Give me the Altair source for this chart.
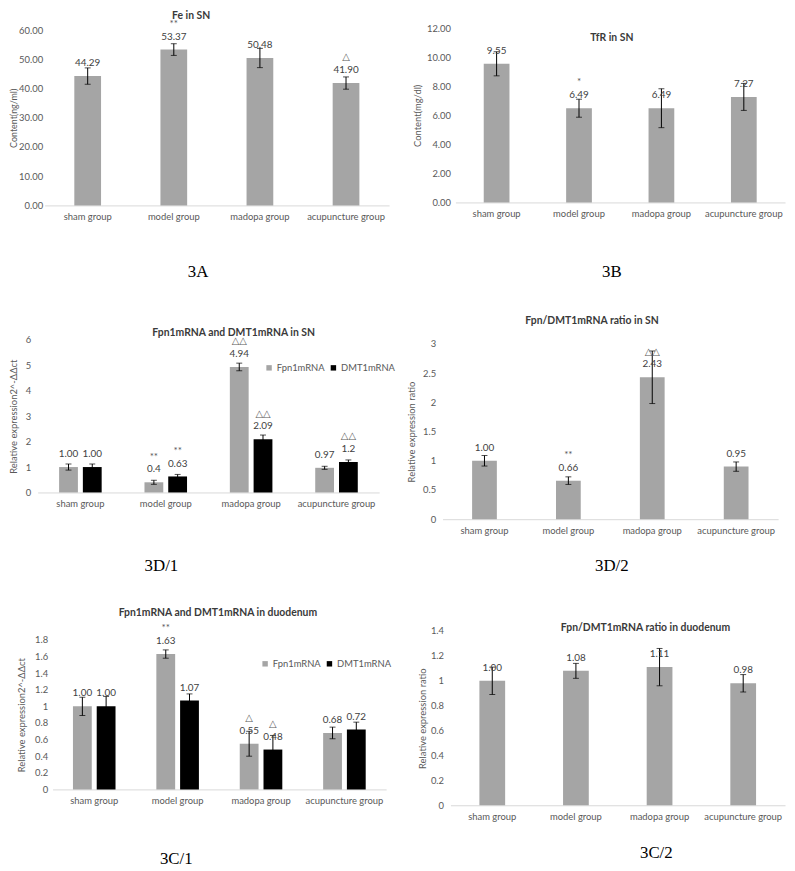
import altair as alt
import pandas as pd

GROUPS = ["sham group", "model group", "madopa group", "acupuncture group"]
SERIES = ["Fpn1mRNA", "DMT1mRNA"]

# ---- 3A : Fe in SN ----
fe_values = [44.29, 53.37, 50.48, 41.90]
fe_errors = [2.8, 2.0, 3.3, 2.1]
fe_labels = ["44.29", "53.37", "50.48", "41.90"]
fe_marks = ["", "**", "", "△"]
fe_ticks = [0, 10, 20, 30, 40, 50, 60]

# ---- 3B : TfR in SN ----
tfr_values = [9.55, 6.49, 6.49, 7.27]
tfr_errors = [0.83, 0.62, 1.34, 0.93]
tfr_labels = ["9.55", "6.49", "6.49", "7.27"]
tfr_marks = ["", "*", "", ""]
tfr_ticks = [0, 2, 4, 6, 8, 10, 12]

# ---- 3D/1 : Fpn1mRNA and DMT1mRNA in SN ----
sn_fpn_values = [1.00, 0.40, 4.94, 0.97]
sn_fpn_errors = [0.12, 0.08, 0.15, 0.06]
sn_fpn_labels = ["1.00", "0.4", "4.94", "0.97"]
sn_fpn_marks = ["", "**", "△△", ""]
sn_dmt_values = [1.00, 0.63, 2.09, 1.20]
sn_dmt_errors = [0.12, 0.08, 0.17, 0.08]
sn_dmt_labels = ["1.00", "0.63", "2.09", "1.2"]
sn_dmt_marks = ["", "**", "△△", "△△"]
sn_ticks = [0, 1, 2, 3, 4, 5, 6]

# ---- 3D/2 : Fpn/DMT1mRNA ratio in SN ----
snr_values = [1.00, 0.66, 2.43, 0.90]
snr_errors = [0.09, 0.065, 0.45, 0.08]
snr_labels = ["1.00", "0.66", "2.43", "0.95"]
snr_marks = ["", "**", "△△", ""]
snr_ticks = [0, 0.5, 1, 1.5, 2, 2.5, 3]

# ---- 3C/1 : Fpn1mRNA and DMT1mRNA in duodenum ----
du_fpn_values = [1.00, 1.63, 0.55, 0.68]
du_fpn_errors = [0.11, 0.05, 0.15, 0.07]
du_fpn_labels = ["1.00", "1.63", "0.55", "0.68"]
du_fpn_marks = ["", "**", "△", ""]
du_dmt_values = [1.00, 1.07, 0.48, 0.72]
du_dmt_errors = [0.12, 0.08, 0.17, 0.09]
du_dmt_labels = ["1.00", "1.07", "0.48", "0.72"]
du_dmt_marks = ["", "", "△", ""]
du_ticks = [0, 0.2, 0.4, 0.6, 0.8, 1, 1.2, 1.4, 1.6, 1.8]

# ---- 3C/2 : Fpn/DMT1mRNA ratio in duodenum ----
dur_values = [1.00, 1.08, 1.11, 0.98]
dur_errors = [0.11, 0.06, 0.15, 0.07]
dur_labels = ["1.00", "1.08", "1.11", "0.98"]
dur_marks = ["", "", "", ""]
dur_ticks = [0, 0.2, 0.4, 0.6, 0.8, 1, 1.2, 1.4]

# ---------------- styling ----------------
W, H = 787, 863
FONT = "Lato, 'DejaVu Sans', sans-serif"
SERIF = "'Liberation Serif', 'Times New Roman', serif"
BAR_GRAY = "#A5A5A5"
TXT_GRAY = "#595959"
LBL_GRAY = "#404040"
FS = 9.5


def frame(values, errors, labels, marks, series=None):
    d = pd.DataFrame({
        "group": GROUPS,
        "v": values,
        "lo": [v - e for v, e in zip(values, errors)],
        "hi": [v + e for v, e in zip(values, errors)],
        "label": labels,
        "mark": marks,
    })
    if series is not None:
        d["series"] = series
    return d


def make_encoders(cfg):
    xs = alt.Scale(domain=GROUPS, range=cfg["xr"], paddingInner=0, paddingOuter=0)
    ys = alt.Scale(domain=cfg["dom"], range=cfg["yr"], nice=False, zero=False)
    x_ax = alt.Axis(orient="bottom", offset=cfg["yr"][0] - H, labelAngle=0,
                    ticks=False, grid=False, domainColor="#D9D9D9", domainWidth=1,
                    labelColor=TXT_GRAY, labelFont=FONT, labelFontSize=FS,
                    labelPadding=6, labelLimit=200, title=None)
    y_ax = alt.Axis(orient="left", offset=-cfg["xr"][0], values=cfg["ticks"],
                    format=cfg["fmt"], domain=False, ticks=False, grid=False,
                    labelPadding=cfg["lpad"], labelColor=TXT_GRAY, labelFont=FONT,
                    labelFontSize=FS, title=cfg["ytitle"], titlePadding=cfg["tpad"],
                    titleColor=TXT_GRAY, titleFont=FONT, titleFontSize=cfg.get("tfs", FS),
                    titleFontWeight="normal")

    def X():
        return alt.X("group:N", sort=GROUPS, scale=xs, axis=x_ax, title=None)

    def Y(field):
        return alt.Y(f"{field}:Q", scale=ys, axis=y_ax, title=cfg["ytitle"])

    return X, Y


def series_layers(df, X, Y, size, off=0, color_enc=None):
    base = alt.Chart(df)
    if color_enc is None:
        bars = base.mark_bar(color=BAR_GRAY, size=size, xOffset=off).encode(x=X(), y=Y("v"))
    else:
        bars = base.mark_bar(size=size, xOffset=off).encode(x=X(), y=Y("v"), color=color_enc)
    rule = base.mark_rule(color="black", strokeWidth=1, xOffset=off).encode(
        x=X(), y=Y("lo"), y2="hi:Q")
    cap_hi = base.mark_tick(color="black", size=6, thickness=1, orient="horizontal",
                            xOffset=off).encode(x=X(), y=Y("hi"))
    cap_lo = base.mark_tick(color="black", size=6, thickness=1, orient="horizontal",
                            xOffset=off).encode(x=X(), y=Y("lo"))
    val = base.mark_text(font=FONT, fontSize=10, color=LBL_GRAY, dy=-13, dx=off,
                         baseline="middle").encode(x=X(), y=Y("v"), text="label:N")
    mk = base.mark_text(font=FONT, fontSize=10, color=TXT_GRAY, dy=-26, dx=off,
                        baseline="middle").encode(x=X(), y=Y("v"), text="mark:N")
    return [bars, rule, cap_hi, cap_lo, val, mk]


def single_panel(values, errors, labels, marks, cfg):
    X, Y = make_encoders(cfg)
    df = frame(values, errors, labels, marks)
    return alt.layer(*series_layers(df, X, Y, cfg["size"]))


def grouped_panel(fvals, ferrs, flabs, fmarks, dvals, derrs, dlabs, dmarks, cfg):
    X, Y = make_encoders(cfg)
    legend = alt.Legend(orient="none", legendX=cfg["lx"], legendY=cfg["ly"],
                        direction="horizontal", title=None, symbolType="square",
                        symbolSize=30, symbolStrokeWidth=0, labelFont=FONT,
                        labelFontSize=FS, labelColor=TXT_GRAY, labelOffset=3,
                        columnPadding=4, padding=0)
    color = alt.Color("series:N", scale=alt.Scale(domain=SERIES, range=[BAR_GRAY, "#000000"]),
                      legend=legend)
    df_f = frame(fvals, ferrs, flabs, fmarks, SERIES[0])
    df_d = frame(dvals, derrs, dlabs, dmarks, SERIES[1])
    lf = series_layers(df_f, X, Y, cfg["size"], -cfg["off"], color)
    ld = series_layers(df_d, X, Y, cfg["size"], cfg["off"], color)
    return alt.layer(*(lf + ld))


def label(text, x, y, size, bold=False, font=FONT, color="#3A3A3A"):
    return alt.Chart(pd.DataFrame({"t": [text]})).mark_text(
        font=font, fontSize=size, fontWeight="bold" if bold else "normal", color=color,
        align="center", baseline="middle").encode(
        text="t:N", x=alt.value(x), y=alt.value(y))


cfgA = dict(xr=[37, 385], yr=[195, 18], dom=[0, 60], ticks=fe_ticks, fmt=".2f",
            ytitle="Content(ng/ml)", lpad=2, tpad=0, tfs=9, size=27)
cfgB = dict(xr=[452, 785], yr=[192, 16], dom=[0, 12], ticks=tfr_ticks, fmt=".2f",
            ytitle="Content(mg/dl)", lpad=5, tpad=4, size=26)
cfgD1 = dict(xr=[30, 375], yr=[485, 331], dom=[0, 6], ticks=sn_ticks, fmt="~g",
             ytitle="Relative expression2^-ΔΔct", lpad=7, tpad=7, size=19, off=12, lx=259, ly=354)
cfgD2 = dict(xr=[439, 778], yr=[512, 335], dom=[0, 3], ticks=snr_ticks, fmt="~g",
             ytitle="Relative expression ratio", lpad=7, tpad=6, size=25)
cfgC1 = dict(xr=[45, 382], yr=[785, 634], dom=[0, 1.8], ticks=du_ticks, fmt="~g",
             ytitle="Relative expression2^-ΔΔct", lpad=5, tpad=8, size=19, off=12, lx=255, ly=653)
cfgC2 = dict(xr=[447, 785], yr=[801, 625], dom=[0, 1.4], ticks=dur_ticks, fmt="~g",
             ytitle="Relative expression ratio", lpad=7, tpad=3, size=26)

pA = single_panel(fe_values, fe_errors, fe_labels, fe_marks, cfgA)
pB = single_panel(tfr_values, tfr_errors, tfr_labels, tfr_marks, cfgB)
pD1 = grouped_panel(sn_fpn_values, sn_fpn_errors, sn_fpn_labels, sn_fpn_marks,
                    sn_dmt_values, sn_dmt_errors, sn_dmt_labels, sn_dmt_marks, cfgD1)
pD2 = single_panel(snr_values, snr_errors, snr_labels, snr_marks, cfgD2)
pC1 = grouped_panel(du_fpn_values, du_fpn_errors, du_fpn_labels, du_fpn_marks,
                    du_dmt_values, du_dmt_errors, du_dmt_labels, du_dmt_marks, cfgC1)
pC2 = single_panel(dur_values, dur_errors, dur_labels, dur_marks, cfgC2)

texts = [
    label("Fe in SN", 185, 4, 10.5, True),
    label("TfR in SN", 610, 26, 10.5, True),
    label("Fpn1mRNA and DMT1mRNA in SN", 228, 324, 10.5, True),
    label("Fpn/DMT1mRNA ratio in SN", 590, 312, 10.5, True),
    label("Fpn1mRNA and DMT1mRNA in duodenum", 212, 607, 10.5, True),
    label("Fpn/DMT1mRNA ratio in duodenum", 644, 622, 10.5, True),
    label("3A", 192, 262, 17, False, SERIF, "#000000"),
    label("3B", 610, 262, 17, False, SERIF, "#000000"),
    label("3D/1", 155, 559, 17, False, SERIF, "#000000"),
    label("3D/2", 610, 559, 17, False, SERIF, "#000000"),
    label("3C/1", 170, 855, 17, False, SERIF, "#000000"),
    label("3C/2", 655, 849, 17, False, SERIF, "#000000"),
]

chart = alt.layer(pA, pB, pD1, pD2, pC1, pC2, *texts).resolve_scale(
    x="independent", y="independent", color="independent"
).resolve_axis(x="independent", y="independent").resolve_legend(color="independent").properties(
    width=W, height=H, autosize=alt.AutoSizeParams(type="none"), padding=0
).configure_view(strokeWidth=0)

chart.save("out.html", embed_options={"renderer": "svg", "actions": False})
